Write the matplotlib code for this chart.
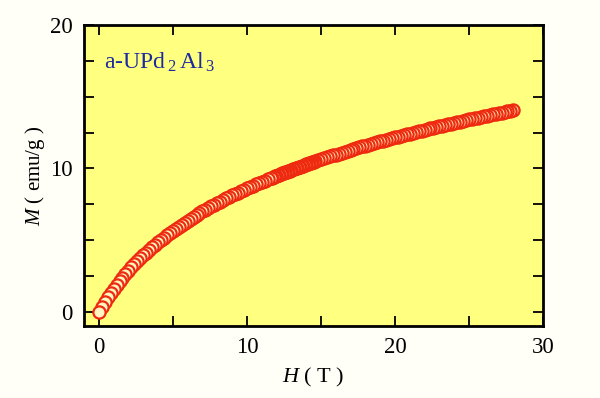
import matplotlib
matplotlib.use("Agg")
import matplotlib.pyplot as plt
from matplotlib.ticker import MultipleLocator

# magnetization curve of a-UPd2Al3
H = [0.0, 0.4, 0.8, 1.2, 1.6, 2.0, 2.4, 2.8, 3.2, 3.6, 4.0, 4.4, 4.8, 5.2, 5.6,
     6.0, 6.4, 6.8, 7.2, 7.6, 8.0, 8.4, 8.8, 9.2, 9.6, 10.0, 10.4, 10.8, 11.2,
     11.6, 12.0, 12.4, 12.8, 13.2, 13.6, 14.0, 14.4, 14.8, 15.2, 15.6, 16.0,
     16.4, 16.8, 17.2, 17.6, 18.0, 18.4, 18.8, 19.2, 19.6, 20.0, 20.4, 20.8,
     21.2, 21.6, 22.0, 22.4, 22.8, 23.2, 23.6, 24.0, 24.4, 24.8, 25.2, 25.6,
     26.0, 26.4, 26.8, 27.2, 27.6, 28.0]
M = [0.0, 0.68, 1.30, 1.86, 2.38, 2.86, 3.31, 3.72, 4.12, 4.49, 4.83, 5.17,
     5.48, 5.78, 6.07, 6.35, 6.61, 6.86, 7.11, 7.34, 7.57, 7.79, 8.00, 8.21,
     8.41, 8.60, 8.79, 8.97, 9.15, 9.32, 9.49, 9.65, 9.81, 9.97, 10.12, 10.27,
     10.41, 10.56, 10.69, 10.83, 10.96, 11.10, 11.22, 11.35, 11.47, 11.59,
     11.71, 11.83, 11.94, 12.06, 12.17, 12.27, 12.38, 12.49, 12.59, 12.69,
     12.79, 12.89, 12.99, 13.08, 13.18, 13.27, 13.36, 13.45, 13.54, 13.63,
     13.72, 13.80, 13.89, 13.97, 14.05]

# points in between
H_mid = [0.2, 0.6, 1.0, 1.4, 1.8, 2.2, 2.6, 3.0, 3.4, 3.8, 4.2, 4.6, 5.0, 5.4,
         5.8, 6.2, 6.6, 7.0, 7.4, 7.8, 8.2, 8.6, 9.0, 9.4, 9.8, 10.2, 10.6,
         11.0, 11.4, 11.8, 12.2, 12.6, 13.0, 13.4, 13.8, 14.2, 14.6, 15.0,
         15.4, 15.8, 16.2, 16.6, 17.0, 17.4, 17.8, 18.2, 18.6, 19.0, 19.4,
         19.8, 20.2, 20.6, 21.0, 21.4, 21.8, 22.2, 22.6, 23.0, 23.4, 23.8,
         24.2, 24.6, 25.0, 25.4, 25.8, 26.2, 26.6, 27.0, 27.4, 27.8]
M_mid = [0.35, 1.00, 1.59, 2.13, 2.62, 3.09, 3.52, 3.92, 4.30, 4.66, 5.00,
         5.33, 5.63, 5.93, 6.21, 6.48, 6.74, 6.99, 7.23, 7.46, 7.68, 7.90,
         8.11, 8.31, 8.50, 8.69, 8.88, 9.06, 9.23, 9.40, 9.57, 9.73, 9.89,
         10.04, 10.19, 10.34, 10.49, 10.63, 10.76, 10.90, 11.03, 11.16, 11.29,
         11.41, 11.53, 11.65, 11.77, 11.89, 12.00, 12.11, 12.22, 12.33, 12.43,
         12.54, 12.64, 12.74, 12.84, 12.94, 13.04, 13.13, 13.23, 13.32, 13.41,
         13.50, 13.59, 13.68, 13.76, 13.85, 13.93, 14.01]

# extra points where the measurement is denser
H_dense = [11.7, 11.9, 12.1, 12.3, 12.5, 12.7, 12.9, 13.1, 13.3, 13.5, 13.7,
           13.9, 14.1, 14.3, 14.5]
M_dense = [9.36, 9.45, 9.53, 9.61, 9.69, 9.77, 9.85, 9.93, 10.01, 10.08,
           10.16, 10.23, 10.30, 10.38, 10.45]

plt.rcParams['font.family'] = ['Liberation Serif', 'DejaVu Serif']
plt.rcParams['mathtext.fontset'] = 'custom'
plt.rcParams['mathtext.rm'] = 'Liberation Serif'
plt.rcParams['mathtext.it'] = 'Liberation Serif:italic'

pts = sorted(zip(H + H_mid + H_dense, M + M_mid + M_dense), reverse=True)
xs = [p[0] for p in pts]
ys = [p[1] for p in pts]

fig = plt.figure(figsize=(6, 3.98), dpi=100, facecolor='#fffff8')
ax = fig.add_axes([0.14, 0.181, 0.765, 0.756])
ax.set_facecolor('#ffff80')

ax.plot(xs, ys, ls='none', marker='o', ms=8.8, mfc='#fff6c0',
        mec='#ee2a10', mew=1.6, zorder=3)

ax.set_xlim(-1, 30)
ax.set_ylim(-1, 20)
ax.xaxis.set_major_locator(MultipleLocator(10))
ax.xaxis.set_minor_locator(MultipleLocator(5))
ax.yaxis.set_major_locator(MultipleLocator(10))
ax.yaxis.set_minor_locator(MultipleLocator(2.5))
ax.tick_params(which='both', direction='in', top=True, right=True,
               length=7, width=1.3, labelsize=16.5, pad=8)
for s in ax.spines.values():
    s.set_linewidth(2)

ax.set_xlabel('$H$ ( T )', fontsize=16, labelpad=6)
ax.set_ylabel('$M$ ( emu/g )', fontsize=15, labelpad=2)
ax.text(0.044, 0.855, r'a-UPd$\,_{2}\,$Al$\,_{3}$', transform=ax.transAxes,
        fontsize=17, color='#1c2aa0')

fig.savefig('out.png', dpi=100, facecolor=fig.get_facecolor())
